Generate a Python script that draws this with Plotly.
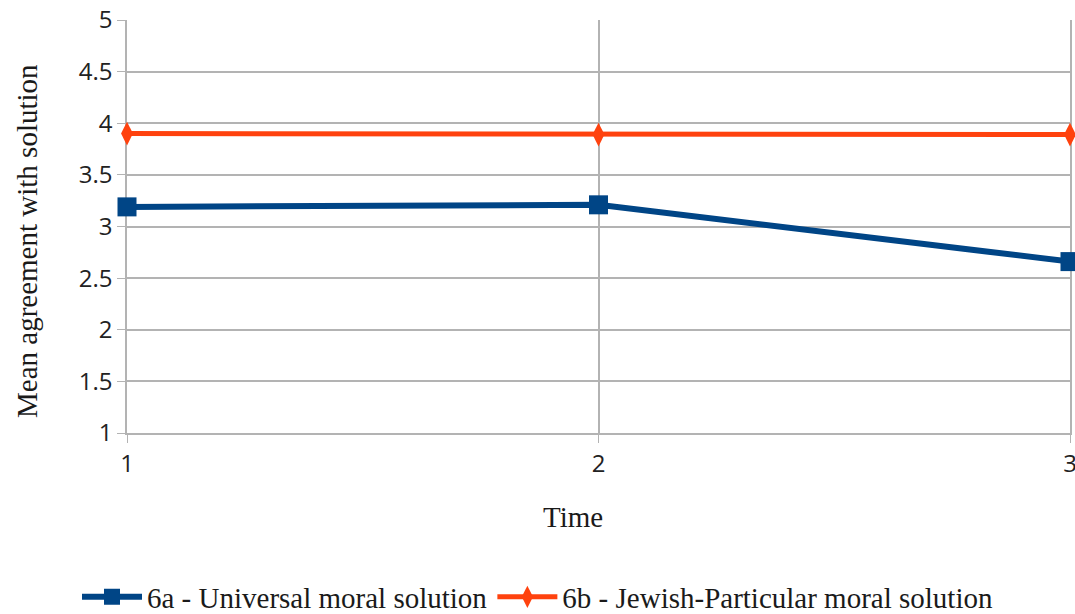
import plotly.graph_objects as go

# Survey waves and mean agreement per solution
time_points = [1, 2, 3]
universal_mean = [3.19, 3.21, 2.66]
particular_mean = [3.90, 3.89, 3.89]

series_names = [
    "6a - Universal moral solution",
    "6b - Jewish-Particular moral solution",
]
y_ticks = [1, 1.5, 2, 2.5, 3, 3.5, 4, 4.5, 5]
y_tick_text = ["1", "1.5", "2", "2.5", "3", "3.5", "4", "4.5", "5"]

BLUE = "#004586"
ORANGE = "#ff420e"
GRID = "#b3b3b3"
TEXT = "#1a1a1a"

fig = go.Figure()
fig.add_trace(go.Scatter(
    x=time_points, y=universal_mean, name=series_names[0],
    mode="lines+markers",
    line=dict(color=BLUE, width=6),
    marker=dict(symbol="square", size=19, color=BLUE),
    cliponaxis=False,
))
fig.add_trace(go.Scatter(
    x=time_points, y=particular_mean, name=series_names[1],
    mode="lines+markers",
    line=dict(color=ORANGE, width=5),
    marker=dict(symbol="diamond-tall", size=17, color=ORANGE),
    cliponaxis=False,
))

W, H = 1075, 614
ML, MR, MT, MB = 127, 5, 20, 181
PLOT_H = H - MT - MB

fig.update_layout(
    width=W, height=H,
    margin=dict(l=ML, r=MR, t=MT, b=MB, pad=0, autoexpand=False),
    paper_bgcolor="white", plot_bgcolor="white",
    showlegend=True,
    legend=dict(
        orientation="h", x=0.5, xanchor="center", xref="container",
        y=-(597 - (H - MB)) / PLOT_H, yanchor="middle", yref="paper",
        font=dict(family="Liberation Serif", size=29, color=TEXT),
        itemwidth=60, tracegroupgap=0,
    ),
    font=dict(family="Open Sans", color="#222222"),
)

fig.update_xaxes(
    range=[1, 3], tickvals=time_points, ticktext=[str(t) for t in time_points],
    showgrid=True, gridcolor=GRID, gridwidth=1.5,
    showline=True, linecolor=GRID, linewidth=1.5,
    ticks="outside", ticklen=8, tickcolor=GRID,
    tickfont=dict(family="Open Sans", size=24, color="#222222"),
    ticklabeloverflow="allow", automargin=False, layer="below traces",
    zeroline=False,
)
fig.update_yaxes(
    range=[1, 5], tickvals=y_ticks, ticktext=y_tick_text,
    showgrid=True, gridcolor=GRID, gridwidth=1.5,
    showline=True, linecolor=GRID, linewidth=1.5, mirror=True,
    ticks="outside", ticklen=8, tickcolor=GRID,
    tickfont=dict(family="Open Sans", size=24, color="#222222"),
    automargin=False, layer="below traces",
    zeroline=False,
)

# Axis titles
fig.add_annotation(
    text="Time", xref="paper", yref="paper",
    x=(573 - ML) / (W - ML - MR), y=0, yanchor="middle", yshift=-(517 - 433),
    showarrow=False, font=dict(family="Liberation Serif", size=29, color=TEXT),
)
fig.add_annotation(
    text="Mean agreement with solution", xref="paper", yref="paper",
    x=0, xanchor="center", xshift=-(ML - 27),
    y=(433 - 241) / (433 - MT), yanchor="middle",
    textangle=-90, showarrow=False,
    font=dict(family="Liberation Serif", size=29, color=TEXT),
)

fig.write_html("out.html")
